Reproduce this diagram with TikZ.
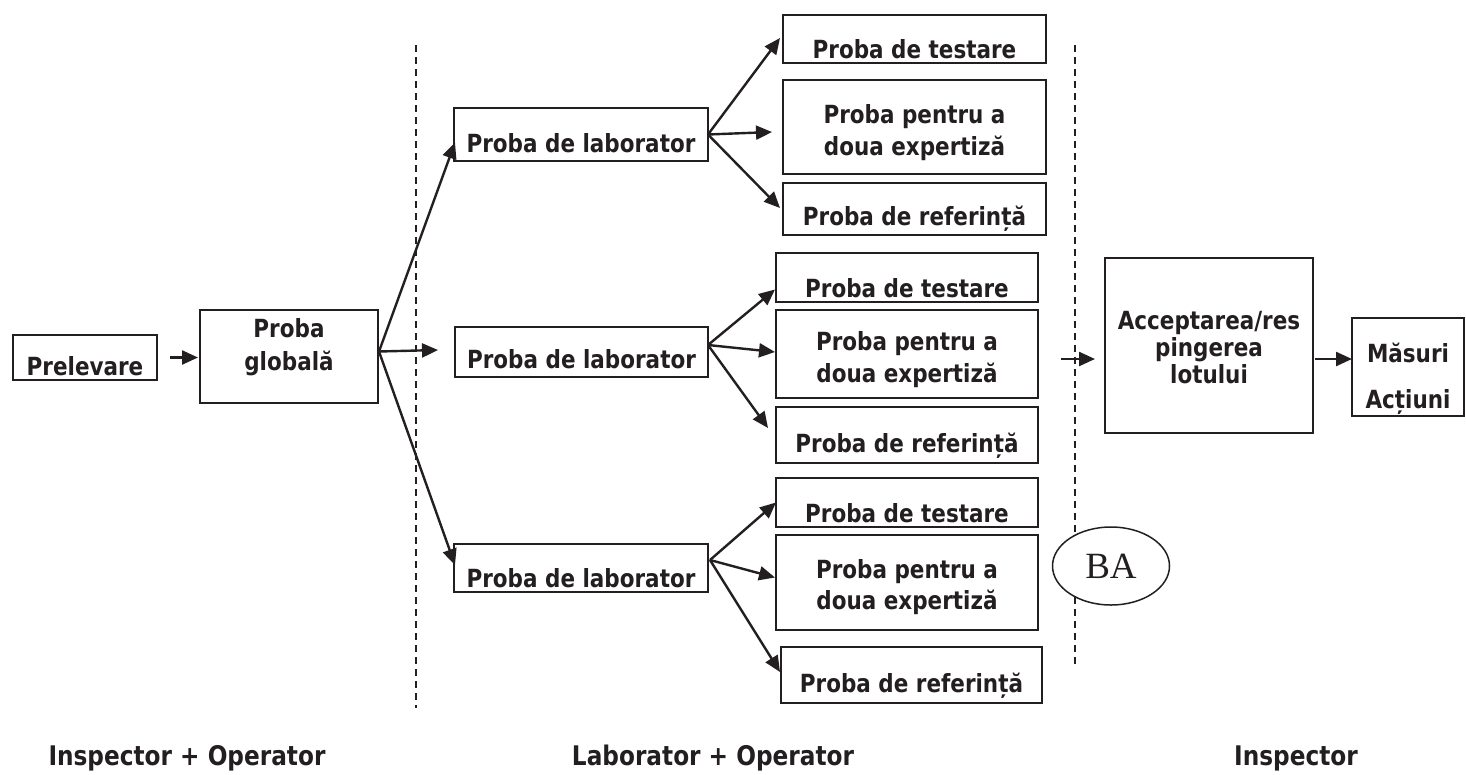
\documentclass[tikz,border=0pt]{standalone}
\usepackage{fontspec}
\usetikzlibrary{arrows.meta,calc,shapes.geometric}
\newfontfamily\mainf{DejaVu Sans}[FakeStretch=0.86]
\newfontfamily\baf{Liberation Serif}
\definecolor{ink}{HTML}{231F20}
\begin{document}
\begin{tikzpicture}[x=1pt,y=-1pt,
  pbox/.style={draw=ink, line width=1.8pt, inner sep=0pt, outer sep=0pt, text=ink, anchor=north west,
    font=\mainf\bfseries\fontsize{25}{32}\selectfont},
  arr/.style={draw=ink, line width=2.4pt, -{Triangle[length=16pt,width=14pt]}},
  sepline/.style={draw=ink, line width=1.4pt, dash pattern=on 7pt off 5pt},
  lbl/.style={text=ink, anchor=base, font=\mainf\bfseries\fontsize{27}{30}\selectfont}]
\useasboundingbox (0,0) rectangle (1466,774);

% separators
\coordinate (d1t) at (416,45);  \coordinate (d1b) at (416,708);
\coordinate (d2t) at (1075,45); \coordinate (d2b) at (1075,665);
\draw[sepline] (d1t) -- (d1b);
\draw[sepline] (d2t) -- (d2b);

% left part
\node[pbox, minimum width=144pt, text height=40pt, text depth=5pt] (pre) at (13,335) {Prelevare};
\node[pbox, minimum width=178pt, align=center, text height=60pt, text depth=33pt,
      font=\mainf\bfseries\fontsize{25}{33}\selectfont] (glob) at (200,310) {Proba\\globală};

% laboratory samples
\node[pbox, minimum width=254pt, text height=44pt, text depth=9pt] (lab1) at (454,108) {Proba de laborator};
\node[pbox, minimum width=253pt, text height=41pt, text depth=9pt] (lab2) at (455,327) {Proba de laborator};
\node[pbox, minimum width=254pt, text height=43pt, text depth=5pt] (lab3) at (454,544) {Proba de laborator};

% group 1
\node[pbox, minimum width=263pt, text height=43pt, text depth=5pt] (t1) at (783,15) {Proba de testare};
\node[pbox, minimum width=263pt, align=center, text height=75pt, text depth=19pt] (p1) at (783,80) {Proba pentru a\\doua expertiză};
\node[pbox, minimum width=263pt, text height=42pt, text depth=10pt] (r1) at (783,183) {Proba de referință};

% group 2
\node[pbox, minimum width=262pt, text height=44pt, text depth=5pt] (t2) at (776,253) {Proba de testare};
\node[pbox, minimum width=262pt, align=center, text height=72pt, text depth=16pt] (p2) at (776,310) {Proba pentru a\\doua expertiză};
\node[pbox, minimum width=262pt, text height=45pt, text depth=11pt] (r2) at (776,407) {Proba de referință};

% group 3
\node[pbox, minimum width=262pt, text height=44pt, text depth=5pt] (t3) at (776,478) {Proba de testare};
\node[pbox, minimum width=262pt, align=center, text height=74pt, text depth=21pt,
      font=\mainf\bfseries\fontsize{25}{31}\selectfont] (p3) at (776,535) {Proba pentru a\\doua expertiză};
\node[pbox, minimum width=261pt, text height=45pt, text depth=11pt] (r3) at (781,647) {Proba de referință};

% right part
\node[pbox, minimum width=208pt, align=center, text height=125pt, text depth=50pt,
      font=\mainf\bfseries\fontsize{25}{27}\selectfont] (acc) at (1105,258) {Acceptarea/res\\pingerea\\lotului};
\node[pbox, minimum width=112pt, align=center, text height=90pt, text depth=8pt,
      font=\mainf\bfseries\fontsize{25}{46}\selectfont] (mas) at (1352,318) {Măsuri\\Acțiuni};

\node[draw=ink, line width=1.5pt, fill=white, ellipse, minimum width=117pt, minimum height=78pt,
      inner sep=0pt, text=ink, font=\baf\fontsize{37}{40}\selectfont] (ba) at (1111,566) {BA};

% connectors
\draw[arr, shorten <=13pt, shorten >=2pt] (pre.east) -- (glob.west |- pre.east);
\coordinate (gs) at ($(glob.east)+(1,-5)$);
\draw[arr] (gs) -- ($(lab1.west)+(1,8)$);
\draw[arr] (gs) -- ($(lab2.west)+(-17,-2)$);
\draw[arr] (gs) -- ($(lab3.west)+(1,-3)$);

\draw[arr] (lab1.east) -- ($(t1.west)+(-3,-1)$);
\draw[arr] (lab1.east) -- ($(p1.west)+(-11,5)$);
\draw[arr] (lab1.east) -- ($(r1.west)+(-3,-1)$);

\coordinate (ms) at ($(lab2.east)+(0,-7)$);
\draw[arr] (ms) -- ($(t2.west)+(-1,12)$);
\draw[arr] (ms) -- ($(p2.west)+(-1,-2)$);
\draw[arr] (ms) -- ($(r2.west)+(-8,-7)$);

\coordinate (bs) at ($(lab3.east)+(2,-8)$);
\draw[arr] (bs) -- (t3.west);
\draw[arr] (bs) -- ($(p3.west)+(-1,-5)$);
\draw[arr] (bs) -- ($(r3.west)+(-1,-3)$);

\coordinate (a0) at (1061,359);
\draw[arr, shorten >=10pt] (a0) -- (acc.west |- a0);
\draw[arr, shorten <=2pt] (acc.east |- a0) -- (mas.west |- a0);

% role labels
\node[lbl] (r-a) at (187,765) {Inspector + Operator};
\node[lbl] (r-b) at (713,765) {Laborator + Operator};
\node[lbl] (r-c) at (1296,765) {Inspector};
\end{tikzpicture}
\end{document}
